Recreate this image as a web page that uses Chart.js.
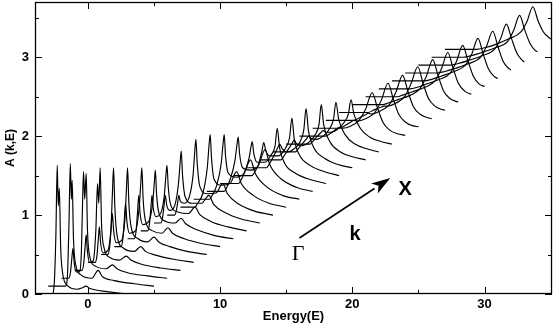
<!DOCTYPE html>
<html>
<head>
<meta charset="utf-8">
<script src="https://cdn.jsdelivr.net/npm/chart.js@4.4.1/dist/chart.umd.min.js"></script>
<style>
  html, body { margin: 0; padding: 0; background: #fff; }
  canvas { display: block; }
</style>
</head>
<body>
<canvas id="chart" width="554" height="324"></canvas>
<script>
// each spectrum k_i is shifted: starts at curveStart[i] on the energy axis, sits on curveBase[i]
const curveStart = [-4, -3, -2, -1, 0, 1, 2, 3, 4, 5, 6, 7, 8, 9, 10, 11,
                    12, 13, 14, 15, 16, 17, 18, 19, 20, 21, 22, 23, 24, 25, 26, 27];
const curveBase = [0, 0.1, 0.2, 0.3, 0.4, 0.5, 0.6, 0.7, 0.8, 0.9, 1.0, 1.1, 1.2, 1.3, 1.4, 1.5,
                   1.6, 1.7, 1.8, 1.9, 2.0, 2.1, 2.2, 2.3, 2.4, 2.5, 2.6, 2.7, 2.8, 2.9, 3.0, 3.1];

// [energy from curve start, A above its base line]
const spectra = [
  [[0,0],[1.3,0],[1.45,0.12],[1.58,0.75],[1.68,1.63],[1.76,1.12],[1.84,1.34],[1.94,0.6],[2.1,0.25],[2.5,0.1],[3.2,0.06],[3.6,0.08],[3.85,0.1],[4.15,0.07],[5,0.04],[6.5,0.01],[8,0]],
  [[0,0],[1.3,0],[1.45,0.12],[1.57,0.8],[1.67,1.55],[1.75,1.1],[1.81,1.34],[1.91,0.6],[2.08,0.27],[2.5,0.14],[3.3,0.1],[3.78,0.2],[4.1,0.12],[5,0.07],[6.5,0.03],[8,0]],
  [[0,0],[0.55,0],[0.68,0.07],[0.79,0.26],[0.87,0.38],[0.96,0.2],[1.12,0.08],[1.35,0.08],[1.5,0.3],[1.59,0.9],[1.67,1.35],[1.76,1.0],[1.87,1.33],[1.97,0.6],[2.13,0.28],[2.6,0.15],[3.4,0.12],[3.85,0.17],[4.2,0.12],[5,0.07],[6.5,0.03],[8,0]],
  [[0,0],[0.55,0],[0.68,0.08],[0.79,0.3],[0.87,0.45],[0.96,0.25],[1.12,0.1],[1.4,0.12],[1.6,0.5],[1.73,1.1],[1.82,0.85],[1.93,1.3],[2.03,0.6],[2.2,0.3],[2.7,0.16],[3.4,0.13],[3.9,0.18],[4.25,0.13],[5,0.08],[6.5,0.03],[8,0]],
  [[0,0],[0.55,0],[0.68,0.08],[0.79,0.3],[0.87,0.45],[0.96,0.25],[1.15,0.12],[1.5,0.15],[1.75,0.45],[1.86,0.9],[1.94,1.2],[2.04,0.7],[2.2,0.35],[2.7,0.18],[3.5,0.14],[4.0,0.2],[4.35,0.14],[5.2,0.09],[6.5,0.04],[8,0]],
  [[0,0],[0.5,0],[0.64,0.09],[0.76,0.33],[0.85,0.52],[0.95,0.3],[1.15,0.15],[1.55,0.18],[1.8,0.45],[1.92,0.85],[2.0,1.1],[2.1,0.65],[2.27,0.35],[2.8,0.2],[3.5,0.16],[4.0,0.22],[4.35,0.16],[5.2,0.1],[6.5,0.04],[8,0]],
  [[0,0],[0.5,0],[0.64,0.09],[0.76,0.35],[0.85,0.55],[0.95,0.32],[1.15,0.17],[1.6,0.2],[1.88,0.5],[2.0,0.8],[2.08,1.0],[2.18,0.6],[2.35,0.33],[2.9,0.2],[3.6,0.17],[4.05,0.24],[4.4,0.17],[5.3,0.1],[6.6,0.04],[8,0]],
  [[0,0],[0.5,0],[0.64,0.09],[0.76,0.35],[0.85,0.55],[0.95,0.32],[1.15,0.18],[1.6,0.22],[1.9,0.45],[2.02,0.7],[2.1,0.87],[2.2,0.55],[2.38,0.32],[2.9,0.22],[3.6,0.2],[4.05,0.26],[4.4,0.19],[5.3,0.11],[6.6,0.04],[8,0]],
  [[0,0],[0.5,0],[0.64,0.07],[0.76,0.28],[0.85,0.45],[0.95,0.28],[1.15,0.18],[1.55,0.24],[1.78,0.45],[1.9,0.7],[1.98,0.83],[2.08,0.55],[2.28,0.32],[2.8,0.24],[3.6,0.22],[4.1,0.3],[4.45,0.21],[5.3,0.12],[6.6,0.05],[8,0]],
  [[0,0],[0.5,0],[0.64,0.06],[0.76,0.22],[0.85,0.35],[0.97,0.22],[1.2,0.16],[1.6,0.24],[1.85,0.5],[1.97,0.75],[2.06,0.91],[2.16,0.6],[2.36,0.33],[2.9,0.25],[3.6,0.25],[4.15,0.35],[4.5,0.24],[5.4,0.13],[6.6,0.05],[8,0]],
  [[0,0],[0.55,0],[0.68,0.05],[0.79,0.16],[0.88,0.25],[1.0,0.17],[1.3,0.15],[1.7,0.25],[1.95,0.5],[2.08,0.8],[2.17,0.96],[2.27,0.65],[2.47,0.36],[3.0,0.27],[3.7,0.28],[4.2,0.4],[4.55,0.27],[5.4,0.14],[6.6,0.05],[8,0]],
  [[0,0],[1.1,0],[1.3,0.05],[1.7,0.18],[2.03,0.5],[2.16,0.78],[2.25,0.92],[2.35,0.62],[2.55,0.35],[3.1,0.28],[3.75,0.3],[4.25,0.45],[4.6,0.3],[5.5,0.15],[6.7,0.05],[8,0]],
  [[0,0],[1.2,0],[1.4,0.05],[1.75,0.18],[2.08,0.45],[2.22,0.7],[2.31,0.82],[2.41,0.55],[2.62,0.33],[3.2,0.28],[3.8,0.33],[4.3,0.5],[4.65,0.33],[5.5,0.16],[6.7,0.05],[8,0]],
  [[0,0],[1.3,0],[1.5,0.05],[1.8,0.17],[2.13,0.4],[2.28,0.6],[2.37,0.69],[2.47,0.48],[2.7,0.3],[3.3,0.27],[3.9,0.33],[4.4,0.53],[4.75,0.34],[5.6,0.16],[6.8,0.05],[8,0]],
  [[0,0],[1.4,0],[1.6,0.05],[1.9,0.16],[2.2,0.33],[2.34,0.47],[2.43,0.53],[2.55,0.38],[2.8,0.27],[3.4,0.27],[3.85,0.36],[4.15,0.47],[4.32,0.7],[4.5,0.45],[4.9,0.25],[5.7,0.13],[6.8,0.05],[8,0]],
  [[0,0],[1.4,0],[1.6,0.04],[1.9,0.14],[2.15,0.3],[2.3,0.42],[2.45,0.32],[2.75,0.25],[3.4,0.25],[3.95,0.35],[4.25,0.48],[4.43,0.73],[4.6,0.47],[5.0,0.26],[5.8,0.13],[6.9,0.05],[8,0]],
  [[0,0],[1.5,0],[1.7,0.04],[2.0,0.13],[2.35,0.25],[2.5,0.3],[2.7,0.24],[3.1,0.2],[3.6,0.24],[4.05,0.33],[4.33,0.48],[4.5,0.75],[4.68,0.47],[5.1,0.25],[5.9,0.12],[6.9,0.04],[8,0]],
  [[0,0],[1.6,0],[1.8,0.04],[2.1,0.12],[2.45,0.21],[2.6,0.25],[2.8,0.2],[3.2,0.18],[3.7,0.22],[4.2,0.32],[4.48,0.45],[4.65,0.7],[4.83,0.45],[5.3,0.23],[6.1,0.1],[7,0.04],[8,0]],
  [[0,0],[1.7,0],[1.9,0.04],[2.2,0.1],[2.55,0.17],[2.7,0.2],[2.9,0.17],[3.3,0.16],[3.8,0.2],[4.3,0.3],[4.58,0.42],[4.76,0.63],[4.96,0.42],[5.45,0.22],[6.2,0.1],[7.1,0.04],[8,0]],
  [[0,0],[1.8,0],[2.0,0.03],[2.3,0.09],[2.65,0.15],[2.8,0.17],[3.0,0.15],[3.4,0.15],[3.9,0.19],[4.4,0.28],[4.7,0.38],[4.9,0.56],[5.12,0.38],[5.6,0.2],[6.3,0.09],[7.2,0.03],[8,0]],
  [[0,0],[1.9,0],[2.3,0.03],[2.8,0.09],[3.0,0.11],[3.25,0.1],[3.9,0.13],[4.5,0.2],[5.0,0.34],[5.5,0.55],[5.9,0.36],[6.3,0.18],[6.8,0.08],[7.4,0.03],[8,0.01]],
  [[0,0],[2.0,0],[2.4,0.03],[2.9,0.08],[3.1,0.1],[3.35,0.09],[4.0,0.12],[4.7,0.2],[5.2,0.36],[5.7,0.57],[6.1,0.37],[6.5,0.18],[7.0,0.08],[7.6,0.03],[8,0.02]],
  [[0,0],[2.1,0],[2.5,0.03],[3.0,0.07],[3.2,0.09],[3.45,0.08],[4.1,0.12],[4.8,0.2],[5.3,0.36],[5.8,0.57],[6.2,0.37],[6.6,0.18],[7.1,0.08],[7.6,0.04],[8,0.02]],
  [[0,0],[2.2,0],[2.6,0.03],[3.2,0.07],[3.4,0.08],[3.65,0.08],[4.3,0.12],[4.95,0.2],[5.45,0.37],[5.95,0.58],[6.35,0.37],[6.75,0.18],[7.25,0.08],[7.7,0.04],[8,0.03]],
  [[0,0],[2.3,0],[2.7,0.02],[3.4,0.06],[4.4,0.12],[5.1,0.2],[5.6,0.36],[6.08,0.57],[6.48,0.37],[6.88,0.18],[7.35,0.08],[8,0.03]],
  [[0,0],[2.4,0],[2.8,0.02],[3.5,0.06],[4.5,0.12],[5.25,0.2],[5.75,0.36],[6.22,0.56],[6.62,0.36],[7.02,0.17],[7.5,0.07],[8,0.03]],
  [[0,0],[2.4,0],[2.9,0.02],[3.6,0.06],[4.6,0.12],[5.4,0.2],[5.88,0.35],[6.35,0.55],[6.75,0.35],[7.15,0.16],[7.6,0.06],[8,0.03]],
  [[0,0],[2.4,0],[3.0,0.02],[3.7,0.06],[4.7,0.12],[5.55,0.2],[6.03,0.34],[6.5,0.54],[6.9,0.34],[7.3,0.15],[7.7,0.06],[8,0.03]],
  [[0,0],[2.4,0],[3.0,0.02],[3.8,0.06],[4.8,0.12],[5.7,0.2],[6.15,0.34],[6.62,0.53],[7.02,0.33],[7.4,0.15],[7.75,0.07],[8,0.04]],
  [[0,0],[2.4,0],[3.0,0.02],[3.8,0.06],[4.8,0.12],[5.75,0.2],[6.2,0.33],[6.65,0.52],[7.05,0.33],[7.45,0.15],[7.8,0.07],[8,0.04]],
  [[0,0],[2.4,0],[3.0,0.02],[3.8,0.06],[4.8,0.12],[5.75,0.2],[6.2,0.34],[6.65,0.53],[7.05,0.34],[7.45,0.17],[7.8,0.09],[8,0.07]],
  [[0,0],[2.4,0],[3.0,0.02],[3.8,0.06],[4.8,0.13],[5.75,0.22],[6.2,0.35],[6.65,0.54],[7.05,0.36],[7.45,0.22],[7.8,0.16],[8.1,0.12]]
];

const xTickLabels = [0, 10, 20, 30];
const xMinorTicks = [5, 15, 25];
const yTickLabels = [0, 1, 2, 3];
const yMinorTicks = [0.5, 1.5, 2.5, 3.5];

// Gamma -> X arrow and its labels, in data units
const arrowFrom = [16.0, 0.71];
const arrowTo = [22.87, 1.47];
const notes = [
  { text: "X", at: [24.0, 1.33], font: "bold 20px 'Liberation Sans', Arial, sans-serif" },
  { text: "k", at: [20.2, 0.75], font: "bold 20px 'Liberation Sans', Arial, sans-serif" },
  { text: "\u0393", at: [15.9, 0.50], font: "22px 'Liberation Serif', 'Times New Roman', serif" }
];

const datasets = spectra.map((pts, i) => ({
  data: pts.map(p => ({ x: curveStart[i] + p[0], y: curveBase[i] + p[1] })),
  borderColor: "#000",
  borderWidth: 1.15,
  pointRadius: 0,
  fill: false,
  cubicInterpolationMode: "monotone"
}));

// frame, inward ticks, arrow and labels
const frameNotes = {
  id: "frameNotes",
  afterDatasetsDraw(chart) {
    const { ctx, chartArea: a, scales: { x, y } } = chart;
    ctx.save();
    ctx.strokeStyle = "#000";
    ctx.lineWidth = 1.3;
    ctx.strokeRect(a.left + 0.5, a.top + 0.5, a.right - a.left - 1, a.bottom - a.top - 1);

    ctx.lineWidth = 1;
    ctx.beginPath();
    const xt = xTickLabels.map(v => [v, 7]).concat(xMinorTicks.map(v => [v, 4]));
    xt.forEach(([v, len]) => {
      const px = Math.round(x.getPixelForValue(v)) + 0.5;
      ctx.moveTo(px, a.bottom); ctx.lineTo(px, a.bottom - len);
      ctx.moveTo(px, a.top); ctx.lineTo(px, a.top + len);
    });
    const yt = yTickLabels.map(v => [v, 7]).concat(yMinorTicks.map(v => [v, 4]));
    yt.forEach(([v, len]) => {
      const py = Math.round(y.getPixelForValue(v)) + 0.5;
      ctx.moveTo(a.left, py); ctx.lineTo(a.left + len, py);
      ctx.moveTo(a.right, py); ctx.lineTo(a.right - len, py);
    });
    ctx.stroke();

    // arrow
    const x0 = x.getPixelForValue(arrowFrom[0]), y0 = y.getPixelForValue(arrowFrom[1]);
    const x1 = x.getPixelForValue(arrowTo[0]), y1 = y.getPixelForValue(arrowTo[1]);
    const ang = Math.atan2(y1 - y0, x1 - x0);
    const hl = 19, hw = 6;
    const bx = x1 - hl * Math.cos(ang), by = y1 - hl * Math.sin(ang);
    ctx.lineWidth = 1.6;
    ctx.beginPath();
    ctx.moveTo(x0, y0); ctx.lineTo(bx, by);
    ctx.stroke();
    ctx.fillStyle = "#000";
    ctx.beginPath();
    ctx.moveTo(x1, y1);
    ctx.lineTo(bx + hw * Math.sin(ang), by - hw * Math.cos(ang));
    ctx.lineTo(x1 - (hl - 5) * Math.cos(ang), y1 - (hl - 5) * Math.sin(ang));
    ctx.lineTo(bx - hw * Math.sin(ang), by + hw * Math.cos(ang));
    ctx.closePath();
    ctx.fill();

    ctx.textAlign = "center";
    ctx.textBaseline = "middle";
    notes.forEach(n => {
      ctx.font = n.font;
      ctx.fillText(n.text, x.getPixelForValue(n.at[0]), y.getPixelForValue(n.at[1]));
    });
    ctx.restore();
  }
};

const tickFont = { family: "'Liberation Sans', Arial, sans-serif", size: 13, weight: "bold" };

new Chart(document.getElementById("chart"), {
  type: "line",
  data: { datasets },
  options: {
    responsive: false,
    animation: false,
    events: [],
    layout: { padding: { top: 2, right: 2, left: 0, bottom: 0 } },
    plugins: { legend: { display: false }, tooltip: { enabled: false } },
    scales: {
      x: {
        type: "linear",
        min: -4,
        max: 35.1,
        afterBuildTicks: s => { s.ticks = xTickLabels.map(v => ({ value: v })); },
        afterFit: s => { s.height = 30; s.paddingLeft = 0; s.paddingRight = 0; },
        grid: { display: false, drawTicks: false },
        border: { display: false },
        ticks: { padding: 3, color: "#000", font: tickFont, maxRotation: 0, autoSkip: false },
        title: {
          display: true, text: "Energy(E)", color: "#000",
          font: { family: "'Liberation Sans', Arial, sans-serif", size: 13, weight: "bold" },
          padding: { top: 0, bottom: 0 }
        }
      },
      y: {
        min: 0,
        max: 3.7,
        afterBuildTicks: s => { s.ticks = yTickLabels.map(v => ({ value: v })); },
        afterFit: s => { s.width = 35; s.paddingTop = 0; s.paddingBottom = 0; },
        grid: { display: false, drawTicks: false },
        border: { display: false },
        ticks: { padding: 6, color: "#000", font: tickFont },
        title: {
          display: true, text: "A (k,E)", color: "#000",
          font: { family: "'Liberation Sans', Arial, sans-serif", size: 12, weight: "bold" },
          padding: { top: 3, bottom: 0 }
        }
      }
    }
  },
  plugins: [frameNotes]
});
</script>
</body>
</html>
